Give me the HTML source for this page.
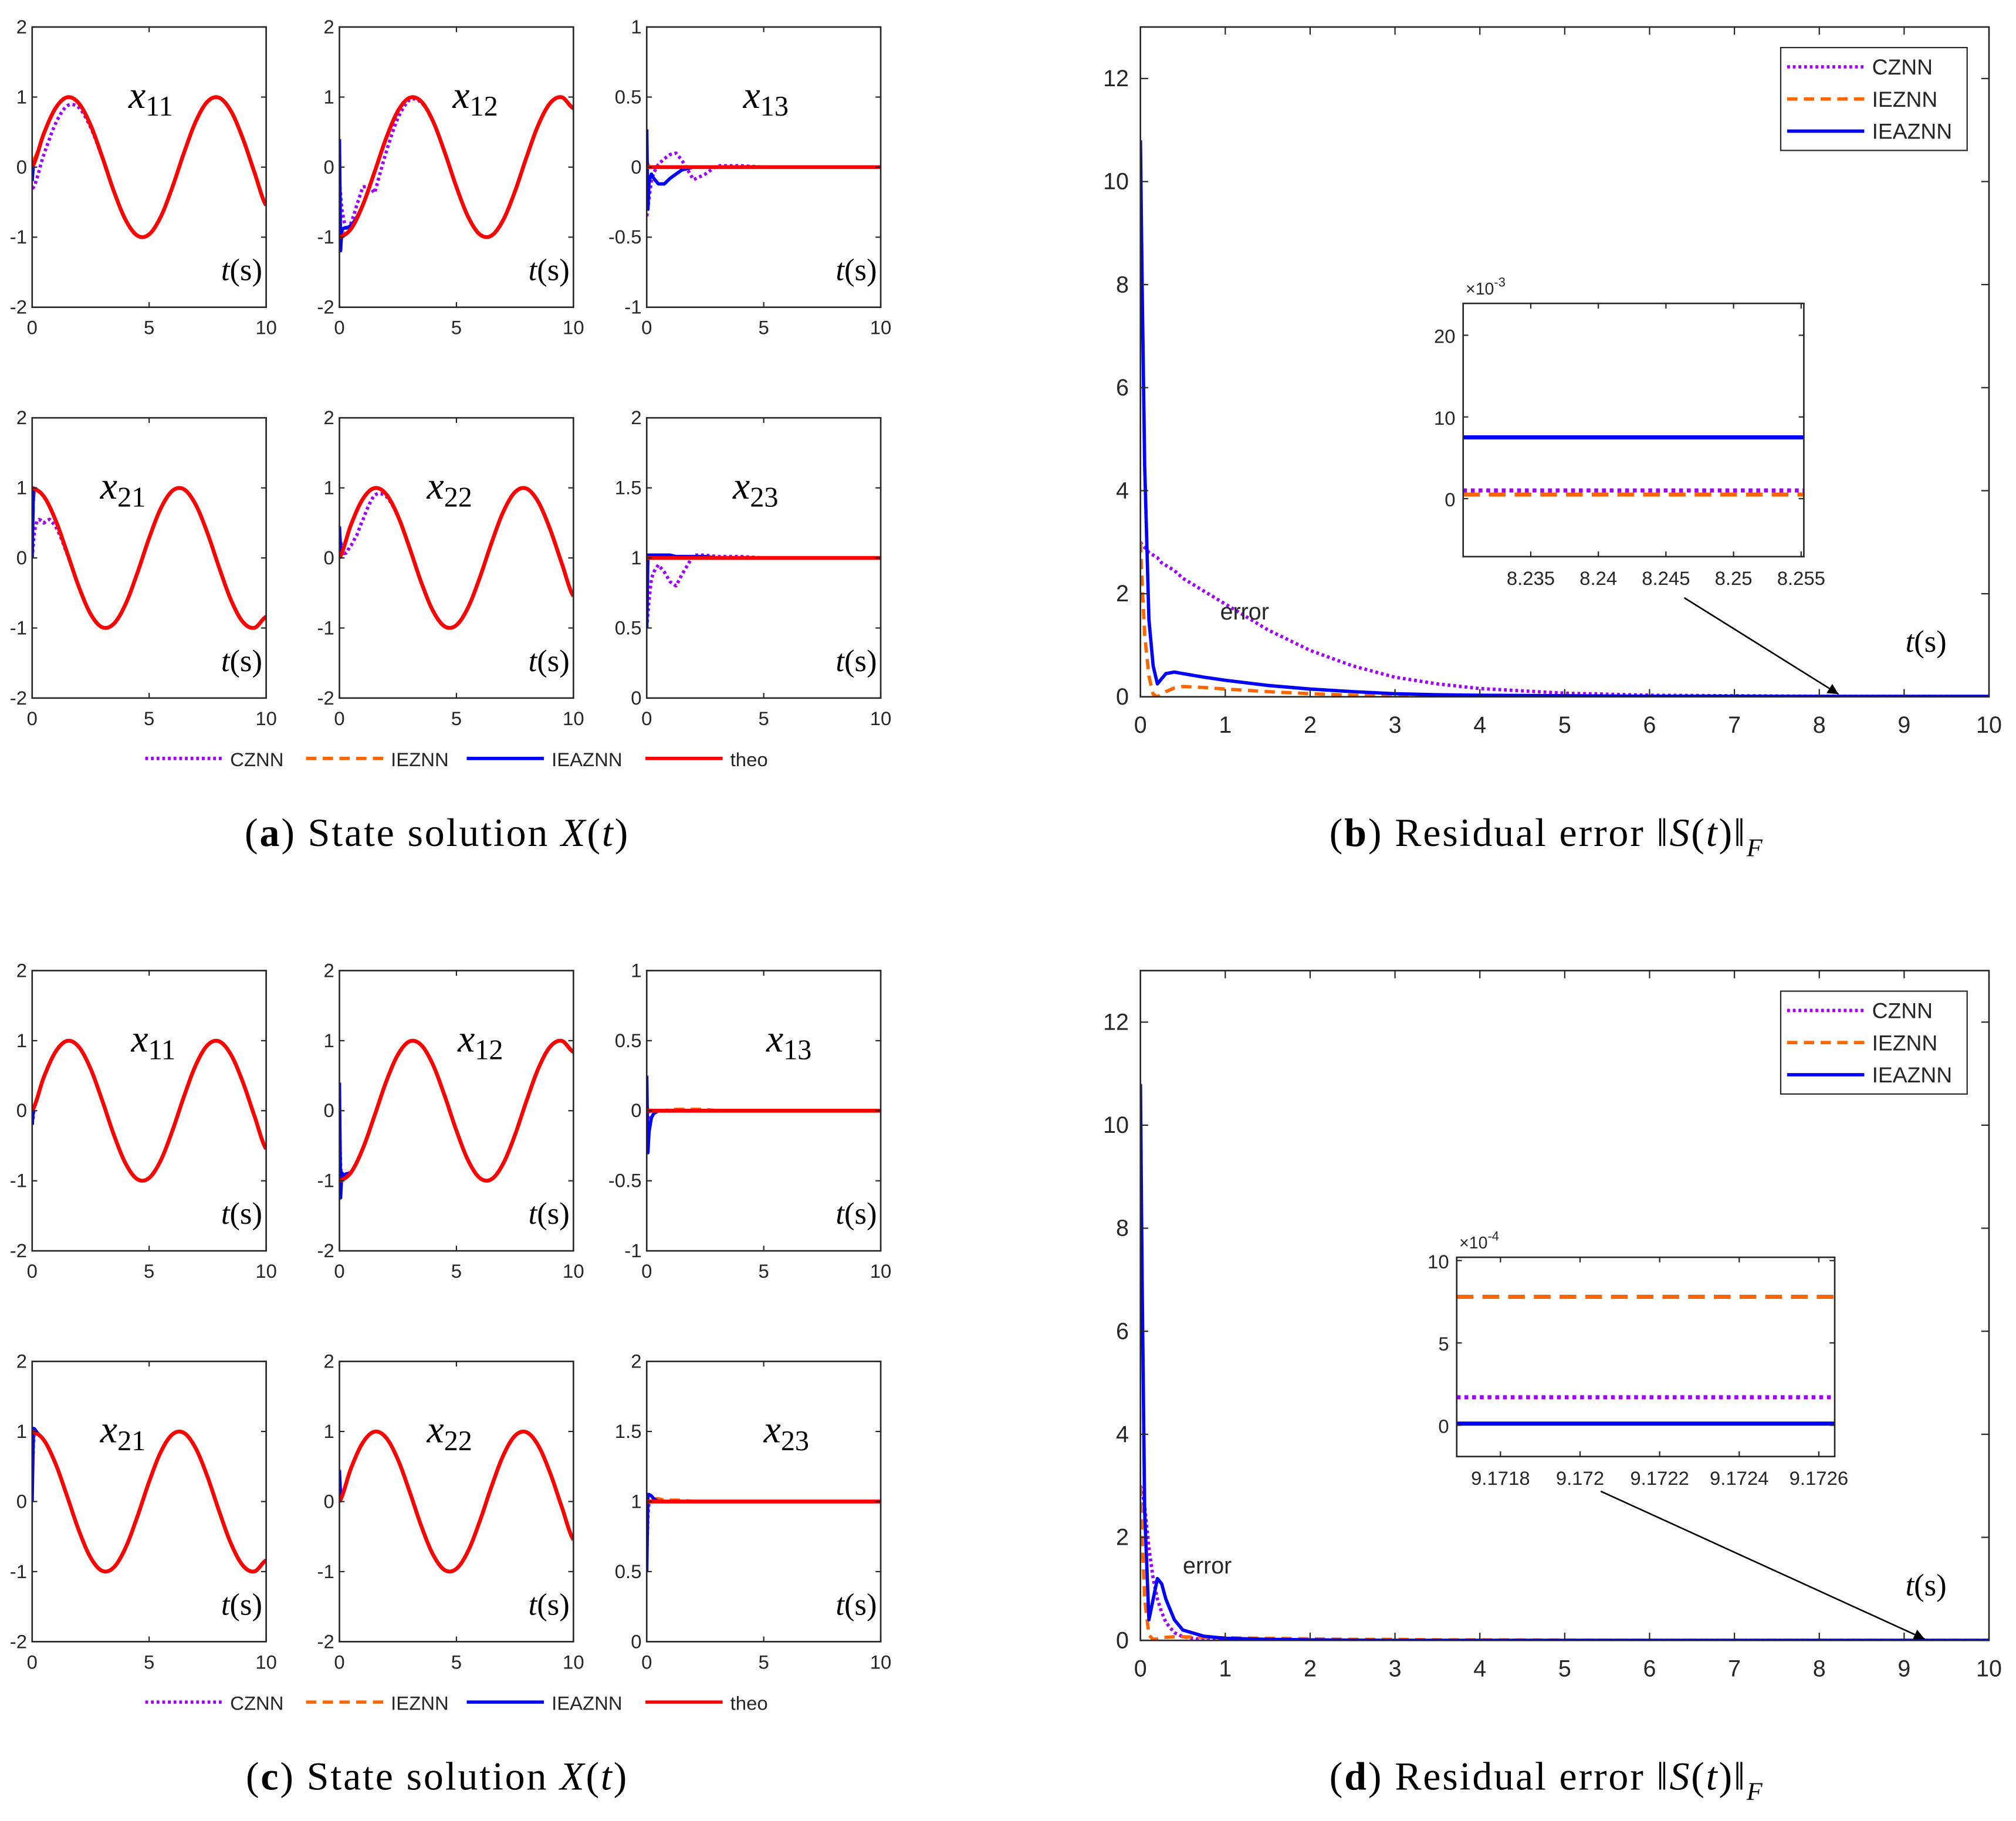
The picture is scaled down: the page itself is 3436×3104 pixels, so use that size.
<!DOCTYPE html>
<html><head><meta charset="utf-8"><style>
html,body{margin:0;padding:0;background:#fff;}
svg{display:block;}
text{font-family:"Liberation Sans",sans-serif;fill:#262626;}
.serif{font-family:"Liberation Serif",serif;fill:#000;}
</style></head><body>
<svg id="fig" xmlns="http://www.w3.org/2000/svg" width="3436" height="3104" viewBox="0 0 1568 1416.5" preserveAspectRatio="none"></svg>
<script>
// ---------- data ----------
const tTheo = [0,0.5,1,1.5,2,2.5,3,3.5,4,4.5,5,5.5,6,6.5,7,7.5,8,8.5,9,9.5,10];
const theoSin = [0,.479,.841,.997,.909,.598,.141,-.351,-.757,-.978,-.959,-.706,-.279,.215,.657,.938,.989,.798,.412,-.075,-.544];
const theoCos = [1,.878,.540,.071,-.416,-.801,-.990,-.936,-.654,-.211,.284,.709,.960,.977,.754,.347,-.146,-.602,-.911,-.997,-.839];
const theoNegCos = [-1,-.878,-.540,-.071,.416,.801,.990,.936,.654,.211,-.284,-.709,-.960,-.977,-.754,-.347,.146,.602,.911,.997,.839];
const theoZero = [0,0,0,0,0,0,0,0,0,0,0,0,0,0,0,0,0,0,0,0,0];
const theoOne = [1,1,1,1,1,1,1,1,1,1,1,1,1,1,1,1,1,1,1,1,1];
const tDev = [0,0.05,0.1,0.2,0.3,0.5,0.75,1,1.25,1.5,2,2.5,3,4,5];
// (a) deviations from theoretical
const a11cz=[-0.3,-0.32,-0.33,-0.33,-0.32,-0.3,-0.27,-0.22,-0.17,-0.12,-0.06,-0.03,-0.01,0,0];
const a11ie=[0.1,0.08,0.06,0.03,0.01,0,0,0,0,0,0,0,0,0,0];
const a11ia=[-0.2,0,0,0,0,0,0,0,0,0,0,0,0,0,0];
const a12cz=[0.8,0.6,0.39,0.2,0.05,0.08,0.2,0.26,0.05,-0.3,-0.2,-0.1,-0.03,0,0];
const a12ie=[0.1,-0.1,0,0.05,0.05,0.03,0.02,0,0,0,0,0,0,0,0];
const a12ia=[1.4,-0.2,0.1,0.1,0.08,0.05,0.02,0,0,0,0,0,0,0,0];
const a13cz=[-0.35,-0.3,-0.22,-0.1,-0.04,0.02,0.06,0.09,0.1,0.05,-0.09,-0.05,0.01,0.01,0];
const a13ie=[0.05,0.02,0,0,0,0,0,0,0,0,0,0,0,0,0];
const a13ia=[0.27,-0.3,-0.1,-0.05,-0.08,-0.12,-0.12,-0.08,-0.05,-0.02,0,0,0,0,0];
const a21cz=[-1,-0.8,-0.6,-0.45,-0.4,-0.38,-0.18,-0.09,-0.04,-0.02,0,0,0,0,0];
const a21ie=[-0.9,-0.2,0,0,0,0,0,0,0,0,0,0,0,0,0];
const a21ia=[-1,-0.05,0,0,0,0,0,0,0,0,0,0,0,0,0];
const a22cz=[0.3,0.2,0.1,-0.1,-0.2,-0.3,-0.35,-0.3,-0.2,-0.1,-0.03,0,0,0,0];
const a22ie=[0.2,0.05,0,0,0,0,0,0,0,0,0,0,0,0,0];
const a22ia=[0.45,0.1,0,0,0,0,0,0,0,0,0,0,0,0,0];
const a23cz=[-0.5,-0.4,-0.3,-0.15,-0.1,-0.05,-0.1,-0.17,-0.2,-0.12,0.02,0.02,0.01,0.01,0];
const a23ie=[-0.3,0,0,0,0,0,0,0,0,0,0,0,0,0,0];
const a23ia=[-0.5,0.02,0.02,0.02,0.02,0.02,0.02,0.02,0.01,0.01,0.01,0.01,0,0,0];
// (c) deviations
const c11cz=[-0.2,-0.1,0,0,0,0,0,0,0,0,0,0,0,0,0];
const c11ie=[0.05,0,0,0,0,0,0,0,0,0,0,0,0,0,0];
const c11ia=[-0.2,0,0,0,0,0,0,0,0,0,0,0,0,0,0];
const c12cz=[0.9,0.2,0,0,0,0,0,0,0,0,0,0,0,0,0];
const c12ie=[0.1,-0.05,0.05,0.05,0.03,0.02,0,0,0,0,0,0,0,0,0];
const c12ia=[1.4,-0.25,0.1,0.05,0.05,0,0,0,0,0,0,0,0,0,0];
const c13cz=[-0.3,-0.1,0,0,0,0,0,0,0,0,0,0,0,0,0];
const c13ie=[0.05,0,0,0,0,0,0,0.01,0.01,0.01,0.01,0.01,0,0,0];
const c13ia=[0.25,-0.3,-0.15,-0.05,-0.02,0,0,0,0,0,0,0,0,0,0];
const c21cz=[-0.8,-0.2,0,0,0,0,0,0,0,0,0,0,0,0,0];
const c21ie=[-0.9,-0.1,0,0,0,0,0,0,0,0,0,0,0,0,0];
const c21ia=[-1,0.05,0.05,0.02,0,0,0,0,0,0,0,0,0,0,0];
const c22cz=[0.3,0.1,0,0,0,0,0,0,0,0,0,0,0,0,0];
const c22ie=[0.2,0,0,0,0,0,0,0,0,0,0,0,0,0,0];
const c22ia=[0.45,0.05,0,0,0,0,0,0,0,0,0,0,0,0,0];
const c23cz=[-0.4,-0.1,0,0,0,0,0,0,0,0,0,0,0,0,0];
const c23ie=[-0.3,0.02,0.02,0.02,0.02,0.02,0.01,0.01,0.01,0.01,0,0,0,0,0];
const c23ia=[-0.5,0.05,0.05,0.04,0.02,0,0,0,0,0,0,0,0,0,0];
// residuals
const tRes=[0,0.02,0.05,0.1,0.15,0.2,0.25,0.3,0.4,0.5,0.75,1,1.5,2,2.5,3,3.5,4,5,6,8,10];
const bCZ=[3,2.95,2.9,2.8,2.75,2.7,2.6,2.55,2.45,2.3,2.05,1.8,1.3,0.9,0.6,0.38,0.25,0.16,0.07,0.03,0.01,0.005];
const bIE=[3,2.2,1.2,0.4,0.05,0,0.05,0.1,0.17,0.2,0.18,0.15,0.1,0.06,0.03,0.02,0.01,0.005,0,0,0,0];
const bIA=[10.8,8,4.5,1.5,0.6,0.25,0.35,0.45,0.48,0.45,0.38,0.32,0.22,0.15,0.1,0.06,0.04,0.03,0.02,0.01,0.008,0.008];
const dCZ=[3,2.9,2.6,1.8,1.2,0.8,0.55,0.35,0.15,0.07,0.01,0.005,0,0,0,0,0,0,0,0,0,0];
const dIE=[3,2,0.8,0.1,0.02,0.03,0.05,0.06,0.07,0.07,0.06,0.05,0.04,0.03,0.02,0.02,0.01,0.01,0.005,0,0,0];
const dIA=[10.8,7,2.5,0.4,0.8,1.2,1.1,0.8,0.4,0.2,0.08,0.04,0.02,0.01,0.005,0,0,0,0,0,0,0];
const bInset=[1,0.5,7.5];      // CZNN, IEZNN, IEAZNN (x1e-3)
const dInset=[1.7,7.8,0.1];    // CZNN, IEZNN, IEAZNN (x1e-4)
const resTicksX=[0,1,2,3,4,5,6,7,8,9,10];
const resTicksY=[0,2,4,6,8,10,12];
const bInsetTicksX=[8.235,8.24,8.245,8.25,8.255];
const dInsetTicksX=[9.1718,9.172,9.1722,9.1724,9.1726];

// ---------- helpers ----------
const NS="http://www.w3.org/2000/svg";
const svg=document.getElementById('fig');
function mk(tag,attrs,parent){const e=document.createElementNS(NS,tag);for(const k in attrs)e.setAttribute(k,attrs[k]);(parent||svg).appendChild(e);return e;}
function lin(ts,vs,t){if(t<=ts[0])return vs[0];for(let i=1;i<ts.length;i++){if(t<=ts[i]){const f=(t-ts[i-1])/(ts[i]-ts[i-1]);return vs[i-1]+f*(vs[i]-vs[i-1]);}}return vs[vs.length-1];}
function cub(ts,vs,t){const h=ts[1]-ts[0];let i=Math.min(Math.floor(t/h),ts.length-2);const f=(t-ts[i])/h;
 const p0=vs[Math.max(i-1,0)],p1=vs[i],p2=vs[i+1],p3=vs[Math.min(i+2,vs.length-1)];
 return 0.5*((2*p1)+(-p0+p2)*f+(2*p0-5*p1+4*p2-p3)*f*f+(-p0+3*p1-3*p2+p3)*f*f*f);}
const COL={cz:'#a000ff',ie:'#ff6600',ia:'#0000ff',th:'#ff0000'};
const DASH={cz:'2.2,2.2',ie:'8,5',ia:'',th:''};
let clipN=0;
function axesBox(g,x0,y0,x1,y1){mk('rect',{x:x0,y:y0,width:x1-x0,height:y1-y0,fill:'none',stroke:'#262626','stroke-width':1.2},g);}
function clipFor(x0,y0,x1,y1){const id='c'+(clipN++);const cp=mk('clipPath',{id:id});mk('rect',{x:x0,y:y0,width:x1-x0,height:y1-y0},cp);return id;}

// ---------- small state panels ----------
function panel(ox,oy,theo,yr,yt,ytl,dev,sub,lblx,name){
 const x0=ox,x1=ox+182,y0=oy,y1=oy+218;
 const g=mk('g',{});  
 const X=t=>x0+(t/10)*(x1-x0), Y=v=>y1-(v-yr[0])/(yr[1]-yr[0])*(y1-y0);
 const cid=clipFor(x0,y0,x1,y1);
 const cg=mk('g',{'clip-path':'url(#'+cid+')'},g);
 ['cz','ie','ia','th'].forEach(k=>{
  let d='';
  for(let i=0;i<=1000;i++){const t=i<200?i*0.0025:0.5+(i-200)*(9.5/800);
   let v=cub(tTheo,theo,t); if(k!=='th') v+=lin(tDev,dev[k],t);
   d+=(i?'L':'M')+X(t).toFixed(2)+','+Y(v).toFixed(2);}
  const p=mk('path',{d:d,fill:'none',stroke:COL[k],'stroke-width':k==='th'?3:2.6,'stroke-dasharray':DASH[k],'stroke-linejoin':'round'},cg);
   
 });
 axesBox(g,x0,y0,x1,y1);
 yt.forEach((v,i)=>{const y=Y(v);mk('line',{x1:x0,x2:x0+4,y1:y,y2:y,stroke:'#262626'},g);mk('line',{x1:x1,x2:x1-4,y1:y,y2:y,stroke:'#262626'},g);
  const tx=mk('text',{x:x0-4,y:y+5,'text-anchor':'end','font-size':15},g);tx.textContent=ytl[i];});
 [0,5,10].forEach(v=>{const x=X(v);mk('line',{x1:x,x2:x,y1:y1,y2:y1-4,stroke:'#262626'},g);mk('line',{x1:x,x2:x,y1:y0,y2:y0+4,stroke:'#262626'},g);
  const tx=mk('text',{x:x,y:y1+21,'text-anchor':'middle','font-size':15},g);tx.textContent=v;});
 const lb=mk('text',{x:lblx,y:y0+63,'class':'serif','font-size':30,'font-style':'italic'},g);
 
 lb.innerHTML='x<tspan font-style="normal" font-size="22" dy="6">'+sub+'</tspan>';
 const ts=mk('text',{x:x1-3,y:y1-21,'class':'serif','font-size':24,'text-anchor':'end'},g);
 ts.innerHTML='<tspan font-style="italic">t</tspan>(s)';
}
function stateFigure(oy,D,pref,capLetter){
 const cols=[25,264,503];
 const specs=[
  [theoSin,[-2,2],[2,1,0,-1,-2],['2','1','0','-1','-2'],D[0],'11',100],
  [theoNegCos,[-2,2],[2,1,0,-1,-2],['2','1','0','-1','-2'],D[1],'12',352],
  [theoZero,[-1,1],[1,0.5,0,-0.5,-1],['1','0.5','0','-0.5','-1'],D[2],'13',578],
  [theoCos,[-2,2],[2,1,0,-1,-2],['2','1','0','-1','-2'],D[3],'21',78],
  [theoSin,[-2,2],[2,1,0,-1,-2],['2','1','0','-1','-2'],D[4],'22',332],
  [theoOne,[0,2],[2,1.5,1,0.5,0],['2','1.5','1','0.5','0'],D[5],'23',570]];
 specs.forEach((s,i)=>{const r=Math.floor(i/3),c=i%3;
  let lx=s[6]; if(oy>300&&i===2) lx=596; if(oy>300&&i===5)lx=594; if(oy>300&&i===0)lx=102; if(oy>300&&i===1)lx=356;
  panel(cols[c],oy+21+r*304,s[0],s[1],s[2],s[3],s[4],s[5],lx,pref+'-x'+s[5]+'-panel');});
 const lg=mk('g',{});
 const ly=oy+590;
 [['cz','CZNN',113],['ie','IEZNN',238],['ia','IEAZNN',363],['th','theo',502]].forEach(e=>{
  const l=mk('line',{x1:e[2],x2:e[2]+60,y1:ly,y2:ly,stroke:COL[e[0]],'stroke-width':2.6,'stroke-dasharray':DASH[e[0]]},lg);
  
  const t=mk('text',{x:e[2]+66,y:ly+6,'font-size':15},lg);t.textContent=e[1];});
 const cap=mk('text',{x:340,y:oy+658,'class':'serif','font-size':31,'text-anchor':'middle','letter-spacing':'1.3'});
 
 cap.innerHTML='(<tspan font-weight="bold">'+capLetter+'</tspan>) State solution <tspan font-style="italic">X</tspan>(<tspan font-style="italic">t</tspan>)';
}
stateFigure(0,[{cz:a11cz,ie:a11ie,ia:a11ia},{cz:a12cz,ie:a12ie,ia:a12ia},{cz:a13cz,ie:a13ie,ia:a13ia},{cz:a21cz,ie:a21ie,ia:a21ia},{cz:a22cz,ie:a22ie,ia:a22ia},{cz:a23cz,ie:a23ie,ia:a23ia}],'fig-a','a');
stateFigure(734,[{cz:c11cz,ie:c11ie,ia:c11ia},{cz:c12cz,ie:c12ie,ia:c12ia},{cz:c13cz,ie:c13ie,ia:c13ia},{cz:c21cz,ie:c21ie,ia:c21ia},{cz:c22cz,ie:c22ie,ia:c22ia},{cz:c23cz,ie:c23ie,ia:c23ia}],'fig-c','c');

// ---------- residual figures ----------
mk('marker',{id:'arr',viewBox:'0 0 10 10',refX:10,refY:5,markerWidth:9,markerHeight:7,orient:'auto'},mk('defs',{})).appendChild((()=>{const p=document.createElementNS(NS,'path');p.setAttribute('d','M0,0 L10,5 L0,10 z');p.setAttribute('fill','#000');return p;})());
function resFigure(oy,data,inset,pref,capLetter){
 const x0=887,x1=1547,y0=oy+21,y1=oy+542;
 const g=mk('g',{});
 const X=t=>x0+t/10*(x1-x0),Y=v=>y1-v/13*(y1-y0);
 const cid=clipFor(x0,y0,x1,y1);const cg=mk('g',{'clip-path':'url(#'+cid+')'},g);
 ['cz','ie','ia'].forEach((k,i)=>{let d='';tRes.forEach((t,j)=>{d+=(j?'L':'M')+X(t).toFixed(2)+','+Y(data[i][j]).toFixed(2);});
  const p=mk('path',{d:d,fill:'none',stroke:COL[k],'stroke-width':2.6,'stroke-dasharray':DASH[k],'stroke-linejoin':'round'},cg);
  });
 axesBox(g,x0,y0,x1,y1);
 resTicksX.forEach(v=>{const x=X(v);mk('line',{x1:x,x2:x,y1:y1,y2:y1-6,stroke:'#262626'},g);mk('line',{x1:x,x2:x,y1:y0,y2:y0+6,stroke:'#262626'},g);
  const t=mk('text',{x:x,y:y1+28,'text-anchor':'middle','font-size':18},g);t.textContent=v;});
 resTicksY.forEach(v=>{const y=Y(v);mk('line',{x1:x0,x2:x0+6,y1:y,y2:y,stroke:'#262626'},g);mk('line',{x1:x1,x2:x1-6,y1:y,y2:y,stroke:'#262626'},g);
  const t=mk('text',{x:x0-9,y:y+6,'text-anchor':'end','font-size':18},g);t.textContent=v;});
 // legend
 const lg=mk('g',{},g);
 mk('rect',{x:1385,y:oy+37,width:145,height:80,fill:'#fff',stroke:'#262626','stroke-width':1},lg);
 [['cz','CZNN'],['ie','IEZNN'],['ia','IEAZNN']].forEach((e,i)=>{const y=oy+52+i*25;
  const l=mk('line',{x1:1390,x2:1450,y1:y,y2:y,stroke:COL[e[0]],'stroke-width':2.6,'stroke-dasharray':DASH[e[0]]},lg);
  
  const t=mk('text',{x:1456,y:y+6,'font-size':17},lg);t.textContent=e[1];});
 // labels
 const ts=mk('text',{x:1514,y:oy+507,'class':'serif','font-size':24,'text-anchor':'end'},g);ts.innerHTML='<tspan font-style="italic">t</tspan>(s)';
 const er=mk('text',{x:inset.errX,y:oy+inset.errY,'font-size':18},g);er.textContent='error';
 
 mk('line',{x1:inset.ar[0],y1:inset.ar[1],x2:inset.ar[2],y2:inset.ar[3],stroke:'#000','stroke-width':1.2,'marker-end':'url(#arr)'},g);
 // inset
 const ig=mk('g',{},g);
 const ix0=inset.box[0],iy0=inset.box[1],ix1=inset.box[2],iy1=inset.box[3];
 mk('rect',{x:ix0,y:iy0,width:ix1-ix0,height:iy1-iy0,fill:'#fff'},ig);
 const IX=v=>ix0+(v-inset.xr[0])/(inset.xr[1]-inset.xr[0])*(ix1-ix0), IY=v=>iy1-(v-inset.yr[0])/(inset.yr[1]-inset.yr[0])*(iy1-iy0);
 ['cz','ie','ia'].forEach((k,i)=>{const y=IY(inset.vals[i]);const l=mk('line',{x1:ix0,x2:ix1,y1:y,y2:y,stroke:COL[k],'stroke-width':3.2,'stroke-dasharray':k==='cz'?'3,3':(k==='ie'?'13,7':'')},ig);
  });
 axesBox(ig,ix0,iy0,ix1,iy1);
 inset.xt.forEach(v=>{const x=IX(v);mk('line',{x1:x,x2:x,y1:iy1,y2:iy1-4,stroke:'#262626'},ig);mk('line',{x1:x,x2:x,y1:iy0,y2:iy0+4,stroke:'#262626'},ig);
  const t=mk('text',{x:x,y:iy1+22,'text-anchor':'middle','font-size':15},ig);t.textContent=v;});
 inset.yt.forEach(v=>{const y=IY(v);mk('line',{x1:ix0,x2:ix0+4,y1:y,y2:y,stroke:'#262626'},ig);mk('line',{x1:ix1,x2:ix1-4,y1:y,y2:y,stroke:'#262626'},ig);
  const t=mk('text',{x:ix0-6,y:y+6,'text-anchor':'end','font-size':15},ig);t.textContent=v;});
 const ex=mk('text',{x:ix0+2,y:iy0-7,'font-size':13},ig);ex.innerHTML='×10<tspan font-size="10" dy="-6">'+inset.exp+'</tspan>';
 const cap=mk('text',{x:1203,y:oy+658,'class':'serif','font-size':31,'text-anchor':'middle','letter-spacing':'1.3'});
 
 cap.innerHTML='(<tspan font-weight="bold">'+capLetter+'</tspan>) Residual error ‖<tspan font-style="italic">S</tspan>(<tspan font-style="italic">t</tspan>)‖<tspan font-style="italic" font-size="20" dy="8">F</tspan>';
}
resFigure(0,[bCZ,bIE,bIA],{box:[1138,236,1403,433],xr:[8.230,8.2552],yr:[-7.1,23.9],vals:bInset,xt:bInsetTicksX,yt:[0,10,20],exp:'-3',errX:949,errY:482,ar:[1310,465,1430,540]},'fig-b','b');
resFigure(734,[dCZ,dIE,dIA],{box:[1133,978,1427,1133],xr:[9.17169,9.17264],yr:[-1.9,10.2],vals:dInset,xt:dInsetTicksX,yt:[0,5,10],exp:'-4',errX:920,errY:490,ar:[1245,1160,1497,1275]},'fig-d','d');
</script>
</body></html>
